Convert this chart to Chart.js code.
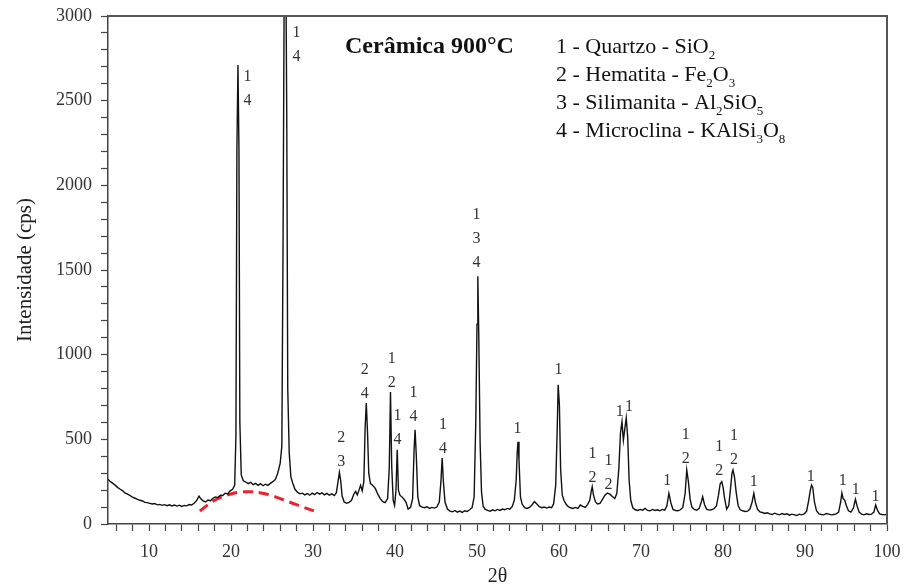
<!DOCTYPE html>
<html><head><meta charset="utf-8">
<script src="https://cdn.jsdelivr.net/npm/chart.js@4.4.1/dist/chart.umd.min.js"></script>
<style>html,body{margin:0;padding:0;background:#fff;}canvas{display:block;}</style>
</head><body>
<canvas id="c" width="906" height="587"></canvas>
<script>
// ---- data: XRD scan, [2θ, cps] ----
const scanLow = [[5.0,265],[5.3,250],[5.6,240],[5.9,228],[6.2,215],[6.5,205],[6.8,196],[7.1,182],[7.4,176],[7.7,168],[8.0,158],[8.3,152],[8.6,146],[8.9,140],[9.2,136],[9.5,128],[9.8,126],[10.1,122],[10.4,118],[10.7,121],[11.0,113],[11.3,116],[11.6,110],[11.9,114],[12.2,108],[12.5,113],[12.8,107],[13.1,112],[13.4,106],[13.7,111],[14.0,104],[14.3,110],[14.6,107],[14.9,115],[15.2,112],[15.5,122],[15.8,138],[16.1,165],[16.3,150],[16.6,136],[16.9,130],[17.2,142],[17.5,138],[17.8,152],[18.1,160],[18.4,156],[18.7,170],[19.0,168],[19.3,182],[19.6,178],[19.9,196],[20.2,205],[20.45,230],[20.6,520],[20.72,2210],[20.85,2710],[20.97,2210],[21.08,600],[21.25,290],[21.5,255],[21.8,248],[22.1,238],[22.4,246],[22.7,232],[23.0,240],[23.3,228],[23.6,238],[23.9,226],[24.2,235],[24.5,228],[24.8,240],[25.1,250],[25.4,262],[25.7,300],[26.0,360],[26.2,460],[26.35,1680],[26.5,3300],[26.65,3600],[26.8,2400],[26.92,800],[27.1,420],[27.3,280],[27.5,245],[27.8,205],[28.1,188],[28.4,178],[28.7,182],[29.0,172],[29.3,180],[29.6,170],[29.9,182]];
const scanMid = [[30.2,174],[30.5,186],[30.8,176],[31.1,184],[31.4,172],[31.7,181],[32.0,170],[32.3,178],[32.6,168],[32.85,185],[33.05,250],[33.22,305],[33.38,255],[33.55,165],[33.8,130],[34.1,122],[34.4,128],[34.7,140],[35.0,178],[35.2,192],[35.4,172],[35.65,206],[35.8,228],[36.0,196],[36.2,250],[36.35,560],[36.5,715],[36.65,540],[36.8,300],[37.0,238],[37.2,232],[37.4,222],[37.6,210],[37.9,176],[38.2,150],[38.5,132],[38.8,126],[39.1,150],[39.3,330],[39.45,780],[39.6,340],[39.78,140],[39.95,110],[40.12,200],[40.27,438],[40.42,200],[40.6,170],[40.85,160],[41.1,146],[41.35,128],[41.6,88],[41.9,98],[42.15,150],[42.32,430],[42.45,556],[42.6,400],[42.78,160],[43.0,108],[43.3,100],[43.6,96],[43.9,102],[44.2,92],[44.5,98],[44.8,94],[45.1,100],[45.4,130],[45.6,250],[45.75,390],[45.9,250],[46.1,128],[46.4,88],[46.7,76],[47.0,72],[47.3,80],[47.6,70],[47.9,76],[48.2,68],[48.5,78],[48.8,74],[49.1,84],[49.4,96],[49.65,160],[49.85,600],[50.0,1180],[50.1,1463],[50.22,1100],[50.38,480],[50.55,190],[50.75,105],[51.0,86],[51.3,80],[51.6,76],[51.9,84],[52.2,78],[52.5,86],[52.8,80],[53.1,88],[53.4,84],[53.7,92],[54.0,88],[54.3,104],[54.55,140],[54.78,260],[54.9,420],[55.0,486],[55.12,380],[55.3,160],[55.5,118],[55.8,96],[56.1,92],[56.4,98],[56.7,112],[57.0,132],[57.3,118],[57.6,102],[57.9,96],[58.2,100],[58.5,94],[58.8,100],[59.1,96],[59.35,120],[59.6,230],[59.78,560],[59.9,822],[60.05,700]];
const scanHigh = [[60.2,320],[60.4,170],[60.6,140],[60.85,118],[61.1,104],[61.4,96],[61.7,92],[62.0,98],[62.3,92],[62.6,112],[62.9,104],[63.2,98],[63.5,116],[63.75,140],[63.92,190],[64.05,220],[64.2,172],[64.45,130],[64.7,118],[65.0,122],[65.3,145],[65.6,170],[65.9,183],[66.2,176],[66.5,162],[66.8,150],[67.05,180],[67.3,330],[67.5,540],[67.68,604],[67.85,495],[68.02,560],[68.2,626],[68.38,510],[68.55,260],[68.75,140],[69.0,96],[69.3,84],[69.6,80],[69.9,86],[70.2,82],[70.5,92],[70.8,80],[71.1,78],[71.4,86],[71.7,80],[72.0,84],[72.3,78],[72.6,86],[72.9,82],[73.15,106],[73.4,181],[73.65,124],[73.9,86],[74.2,80],[74.5,78],[74.8,84],[75.1,98],[75.38,180],[75.58,319],[75.78,250],[75.98,150],[76.2,100],[76.5,86],[76.8,82],[77.1,92],[77.35,130],[77.52,161],[77.75,114],[78.0,88],[78.3,82],[78.6,84],[78.9,90],[79.2,106],[79.45,170],[79.65,236],[79.85,250],[80.02,215],[80.2,150],[80.45,88],[80.7,108],[80.9,200],[81.1,300],[81.22,319],[81.4,278],[81.6,190],[81.85,108],[82.1,84],[82.4,78],[82.7,74],[83.0,76],[83.3,90],[83.55,130],[83.76,181],[83.95,128],[84.2,88],[84.5,72],[84.8,68],[85.1,62],[85.4,66],[85.7,60],[86.0,56],[86.3,64],[86.6,58],[86.9,54],[87.2,62],[87.5,56],[87.8,60],[88.1,52],[88.4,58],[88.7,54],[89.0,50],[89.3,58],[89.6,54],[89.9,60],[90.2,76],[90.45,140],[90.65,200],[90.8,230],[90.95,215],[91.15,130],[91.4,78],[91.7,60],[92.0,56],[92.3,54],[92.6,62],[92.9,58],[93.2,54],[93.5,56],[93.8,60],[94.1,70],[94.35,130],[94.5,183],[94.65,150],[94.85,140],[95.05,108],[95.3,78],[95.6,70],[95.9,94],[96.15,146],[96.35,108],[96.6,70],[96.9,58],[97.2,54],[97.5,60],[97.8,56],[98.1,58],[98.4,70],[98.62,112],[98.85,80],[99.1,60],[99.4,56],[99.7,54],[100.0,58]];
// amorphous halo guide (red dashed)
const haloX = [16.2, 18, 20, 22, 24, 26, 28, 30.1];
const haloY = [77, 140, 177, 191, 180, 150, 114, 77];
// phase numbers above peaks: [2θ, cps of first line, lines]
const peakLabels = [
  [22.0, 2640, ['1','4']],
  [28.0, 2900, ['1','4']],
  [33.45, 508, ['2','3']],
  [36.3, 908, ['2','4']],
  [39.6, 975, ['1','2']],
  [40.3, 640, ['1','4']],
  [42.25, 772, ['1','4']],
  [45.85, 585, ['1','4']],
  [49.95, 1825, ['1','3','4']],
  [54.95, 560, ['1']],
  [59.95, 910, ['1']],
  [64.1, 415, ['1','2']],
  [66.05, 375, ['1','2']],
  [67.4, 665, ['1']],
  [68.55, 690, ['1']],
  [73.2, 256, ['1']],
  [75.45, 525, ['1','2']],
  [79.55, 458, ['1','2']],
  [81.35, 520, ['1','2']],
  [83.75, 250, ['1']],
  [90.7, 278, ['1']],
  [94.6, 254, ['1']],
  [96.2, 200, ['1']],
  [98.6, 160, ['1']]
];
const chartTitle = 'Cerâmica 900°C';
const phases = ['1 - Quartzo - SiO_2', '2 - Hematita - Fe_2O_3', '3 - Silimanita - Al_2SiO_5', '4 - Microclina - KAlSi_3O_8'];
const xTitle = '2θ';
const yTitle = 'Intensidade (cps)';

const serif = '"Liberation Serif", "Times New Roman", serif';
const scan = scanLow.concat(scanMid, scanHigh).map(([x, y]) => ({x, y}));
const halo = haloX.map((x, i) => ({x, y: haloY[i]}));

function drawRich(ctx, str, x, y, size) {
  const parts = str.split(/(_\d)/).filter(s => s.length);
  let cx = x;
  parts.forEach(p => {
    if (p[0] === '_') {
      ctx.font = Math.round(size * 0.6) + 'px ' + serif;
      ctx.fillText(p.slice(1), cx, y + 6);
      cx += ctx.measureText(p.slice(1)).width;
    } else {
      ctx.font = size + 'px ' + serif;
      ctx.fillText(p, cx, y);
      cx += ctx.measureText(p).width;
    }
  });
}

const overlay = {
  id: 'overlay',
  afterDraw(chart) {
    const {ctx, chartArea: a, scales: {x, y}} = chart;
    ctx.save();
    ctx.strokeStyle = '#555';
    ctx.lineWidth = 2;
    ctx.beginPath();
    ctx.moveTo(a.left, a.top); ctx.lineTo(a.right, a.top); ctx.lineTo(a.right, a.bottom);
    ctx.stroke();
    ctx.fillStyle = '#333';
    ctx.font = '16px ' + serif;
    ctx.textAlign = 'center';
    ctx.textBaseline = 'middle';
    peakLabels.forEach(([px, py, lines]) => {
      const X = x.getPixelForValue(px), Y = y.getPixelForValue(py);
      lines.forEach((t, i) => ctx.fillText(t, X, Y + i * 24));
    });
    ctx.fillStyle = '#111';
    ctx.textAlign = 'left';
    ctx.textBaseline = 'alphabetic';
    ctx.font = 'bold 24px ' + serif;
    ctx.fillText(chartTitle, 345, 53);
    phases.forEach((t, i) => drawRich(ctx, t, 556, 53 + i * 28, 22));
    ctx.restore();
  }
};

const tickFont = {family: serif, size: 18};
new Chart(document.getElementById('c'), {
  type: 'line',
  data: {
    datasets: [
      {data: scan, borderColor: '#111', borderWidth: 1.4, pointRadius: 0, tension: 0, fill: false},
      {data: halo, borderColor: '#e8232b', borderWidth: 3, borderDash: [10, 6], pointRadius: 0, tension: 0.4, fill: false}
    ]
  },
  options: {
    responsive: false, animation: false, devicePixelRatio: 1,
    layout: {padding: {top: 16, right: 19, left: 0, bottom: 0}},
    plugins: {legend: {display: false}, tooltip: {enabled: false}},
    scales: {
      x: {
        type: 'linear', min: 5, max: 100,
        afterBuildTicks: s => { const t = []; for (let v = 6; v <= 100; v += 2) t.push({value: v}); s.ticks = t; },
        afterFit: s => { s.height = 63; s.paddingLeft = 0; s.paddingRight = 0; },
        ticks: {autoSkip: false, maxRotation: 0, padding: 10, color: '#333', font: tickFont,
                callback: v => (v % 10 === 0 ? String(v) : '')},
        grid: {drawOnChartArea: false, drawTicks: true, tickLength: 7, tickColor: '#444', tickWidth: 1.2},
        border: {display: true, color: '#444', width: 1.5},
        title: {display: true, text: xTitle, color: '#222', font: {family: serif, size: 20, lineHeight: 1.0}, padding: {top: 0, bottom: 0}}
      },
      y: {
        min: 0, max: 3000,
        afterBuildTicks: s => { const t = []; for (let v = 0; v <= 3000; v += 100) t.push({value: v}); s.ticks = t; },
        afterFit: s => { s.width = 108; s.paddingTop = 0; s.paddingBottom = 0; },
        ticks: {autoSkip: false, padding: 9, color: '#333', font: tickFont,
                callback: v => (v % 500 === 0 ? String(v) : '')},
        grid: {drawOnChartArea: false, drawTicks: true, tickLength: 7, tickColor: '#444', tickWidth: 1.2},
        border: {display: true, color: '#444', width: 1.5},
        title: {display: true, text: yTitle, color: '#222', font: {family: serif, size: 21, lineHeight: 1.0}, padding: {top: 15, bottom: 0}}
      }
    }
  },
  plugins: [overlay]
});
</script>
</body></html>
